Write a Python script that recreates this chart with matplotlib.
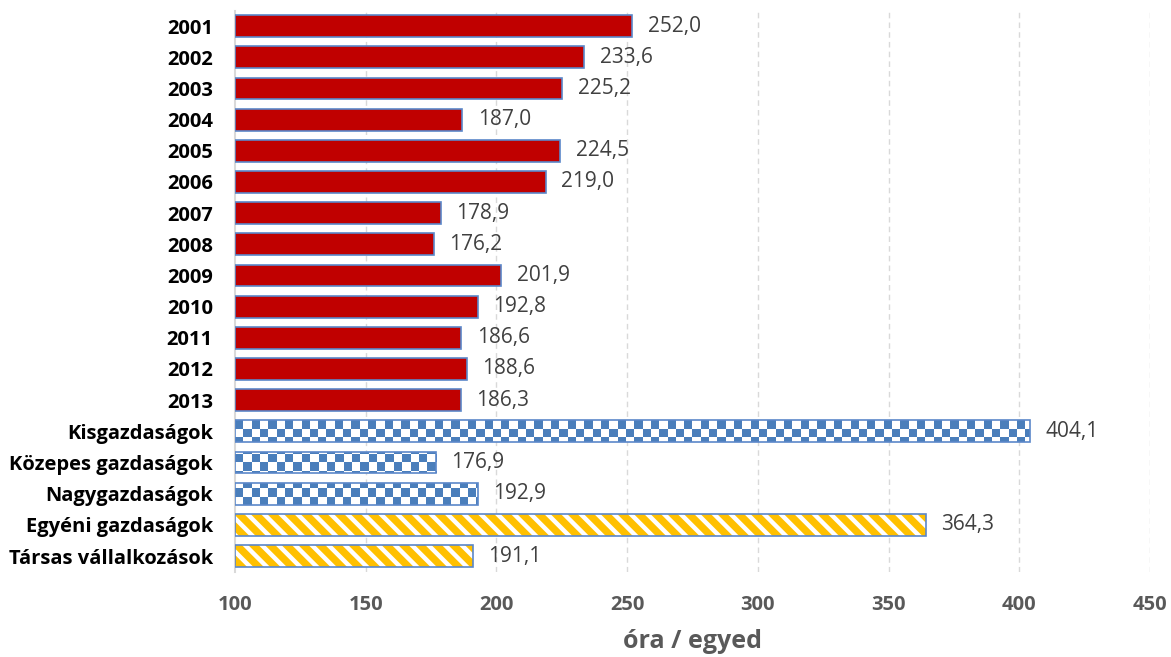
import numpy as np
import matplotlib
matplotlib.use("Agg")
import matplotlib.pyplot as plt
from matplotlib.colors import ListedColormap

categories = ["2001", "2002", "2003", "2004", "2005", "2006", "2007", "2008", "2009",
              "2010", "2011", "2012", "2013", "Kisgazdaságok", "Közepes gazdaságok",
              "Nagygazdaságok", "Egyéni gazdaságok", "Társas vállalkozások"]
values = [252.0, 233.6, 225.2, 187.0, 224.5, 219.0, 178.9, 176.2, 201.9,
          192.8, 186.6, 188.6, 186.3, 404.1, 176.9, 192.9, 364.3, 191.1]
styles = ["solid"] * 13 + ["checker"] * 3 + ["stripe"] * 2

plt.rcParams['font.family'] = ['Open Sans', 'DejaVu Sans']
plt.rcParams['hatch.linewidth'] = 3.2

RED = "#C00000"
BLUE = "#4A7EBB"
EDGE = "#5B87C9"
YELLOW = "#FFC000"

fig = plt.figure(figsize=(11.71, 6.57), dpi=100)
ax = fig.add_axes([0.2007, 0.130, 0.7813, 0.854])

xmin, xmax = 100, 450
ax.set_xlim(xmin, xmax)
ax.set_ylim(len(categories) - 0.5, -0.5)

y = np.arange(len(categories))
h = 0.7

# checkerboard image (pattern only)
n_rows, n_cols = 67, 110
checker = (np.add.outer(np.arange(n_rows), np.arange(n_cols)) % 2).astype(float)
cmap = ListedColormap(["white", BLUE])

for yi, v, st in zip(y, values, styles):
    if st == "solid":
        ax.barh(yi, v - xmin, left=xmin, height=h, color=RED, edgecolor=EDGE,
                linewidth=1.2, zorder=3)
    elif st == "checker":
        bars = ax.barh(yi, v - xmin, left=xmin, height=h, color="white",
                       edgecolor="none", linewidth=0, zorder=3)
        im = ax.imshow(checker, cmap=cmap, extent=(xmin, xmax, len(categories) - 0.5, -0.5),
                       aspect="auto", interpolation="nearest", zorder=3.5)
        im.set_clip_path(bars.patches[0])
        ax.barh(yi, v - xmin, left=xmin, height=h, color="none", edgecolor=EDGE,
                linewidth=1.2, zorder=4)
    else:
        ax.barh(yi, v - xmin, left=xmin, height=h, color=YELLOW, edgecolor="white",
                hatch="\\\\", linewidth=0, zorder=3)
        ax.barh(yi, v - xmin, left=xmin, height=h, color="none", edgecolor=EDGE,
                linewidth=1.2, zorder=4)
    ax.annotate(f"{v:.1f}".replace(".", ","), xy=(v, yi), xytext=(11, 0),
                textcoords="offset points", va="center", ha="left",
                fontsize=15, color="#404040", zorder=5)

ax.set_xticks(np.arange(100, 451, 50))
ax.set_xticklabels([str(t) for t in range(100, 451, 50)], fontsize=14.5,
                   fontweight="bold", color="#595959")
ax.set_yticks(y)
ax.set_yticklabels(categories, fontsize=14.5, fontweight="bold", color="black")
ax.tick_params(axis="x", length=0, pad=17)
ax.tick_params(axis="y", length=0, pad=16)

for xv in range(150, 451, 50):
    ax.axvline(xv, color="#D9D9D9", linestyle=(0, (4, 3)), linewidth=1, zorder=1)

for s in ["top", "right", "bottom"]:
    ax.spines[s].set_visible(False)
ax.spines["left"].set_color("#D9D9D9")
ax.spines["left"].set_linewidth(1.5)

ax.set_xlabel("óra / egyed", fontsize=18, fontweight="bold", color="#595959", labelpad=10)

fig.savefig("out.png", dpi=100)
